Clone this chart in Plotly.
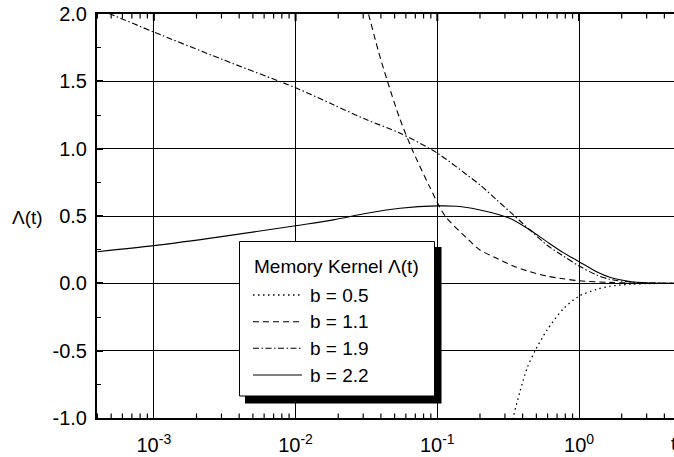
import math
import plotly.graph_objects as go

# ---------------- data ----------------
t_b05 = [0.33, 0.343, 0.384, 0.430, 0.490, 0.592, 0.774, 1.0, 1.33, 1.65, 2.29, 3.0, 4.7]
L_b05 = [-1.12, -1.0, -0.80, -0.63, -0.50, -0.35, -0.19, -0.095, -0.045, -0.022, -0.007, -0.002, 0.0]

t_b11 = [0.030, 0.0327, 0.0385, 0.0445, 0.0545, 0.0661, 0.088, 0.1135, 0.162, 0.2, 0.263,
         0.344, 0.451, 0.592, 0.774, 1.0, 1.65, 2.29, 3.0, 4.7]
L_b11 = [2.14, 2.0, 1.72, 1.5, 1.22, 1.0, 0.72, 0.5, 0.335, 0.248, 0.186,
         0.129, 0.086, 0.054, 0.034, 0.019, 0.007, 0.003, 0.001, 0.0]

t_b19 = [4.0e-4, 4.93e-4, 1e-3, 3e-3, 0.01, 0.0185, 0.0318, 0.0547, 0.1, 0.162, 0.2, 0.263,
         0.344, 0.451, 0.592, 0.774, 1.0, 1.33, 1.65, 2.29, 3.0, 4.7]
L_b19 = [2.04, 2.0, 1.866, 1.665, 1.452, 1.326, 1.214, 1.115, 0.967, 0.805, 0.731, 0.619,
         0.508, 0.396, 0.285, 0.203, 0.129, 0.062, 0.030, 0.010, 0.003, 0.0]

t_b22 = [4.0e-4, 1e-3, 3e-3, 0.01, 0.0185, 0.0318, 0.0547, 0.1, 0.137, 0.2, 0.277,
         0.344, 0.451, 0.592, 0.774, 1.0, 1.33, 1.65, 2.29, 3.0, 4.7]
L_b22 = [0.235, 0.280, 0.347, 0.428, 0.471, 0.520, 0.558, 0.575, 0.572, 0.545, 0.508,
         0.471, 0.396, 0.310, 0.228, 0.161, 0.086, 0.045, 0.014, 0.004, 0.0]

series_names = ["b = 0.5", "b = 1.1", "b = 1.9", "b = 2.2"]
x_tickvals = [1e-3, 1e-2, 1e-1, 1]
x_ticktext = ["10<sup>-3</sup>", "10<sup>-2</sup>", "10<sup>-1</sup>", "10<sup>0</sup>"]
x_minor_mult = [2, 3, 4, 5, 6, 7, 8, 9]
x_minor_decades = [1e-4, 1e-3, 1e-2, 1e-1, 1]
y_tickvals = [-1.0, -0.5, 0.0, 0.5, 1.0, 1.5, 2.0]
y_ticktext = ["-1.0", "-0.5", "0.0", "0.5", "1.0", "1.5", "2.0"]
legend_title = "Memory Kernel \u039b(t)"

# ---------------- styling ----------------
W, H = 674, 457
ML, MR, MT, MB = 97, 0, 14, 39
FONT = "Liberation Sans, Arial, Helvetica, sans-serif"
FS = 19
FS_TICK = 20
dashes = ["1.5px,3.5px", "6px,4px", "6px,2.5px,1.5px,2.5px", "solid"]
widths = [1.3, 1.1, 1.1, 1.1]
XRANGE = [-3.401, 0.670]
YRANGE = [-1.0, 2.0]

PW = W - ML - MR
PH = H - MT - MB


def px(x):
    return (x - ML) / PW


def py(y):
    return (H - MB - y) / PH


def xlog_paper(v):
    return (math.log10(v) - XRANGE[0]) / (XRANGE[1] - XRANGE[0])


fig = go.Figure()
all_t = [t_b05, t_b11, t_b19, t_b22]
all_L = [L_b05, L_b11, L_b19, L_b22]
for t, L, name, d, w in zip(all_t, all_L, series_names, dashes, widths):
    fig.add_trace(go.Scatter(
        x=t, y=L, mode="lines", name=name,
        line=dict(color="black", width=w, dash=d, shape="spline", smoothing=0.8),
        showlegend=False,
    ))

fig.update_layout(
    width=W, height=H,
    margin=dict(l=ML, r=MR, t=MT, b=MB, pad=0),
    paper_bgcolor="white", plot_bgcolor="white",
    font=dict(family=FONT, size=FS, color="black"),
    xaxis=dict(
        type="log", range=XRANGE,
        tickmode="array", tickvals=x_tickvals, ticktext=x_ticktext,
        ticks="", showline=True, linecolor="black", linewidth=2, mirror=True,
        showgrid=True, gridcolor="black", gridwidth=1,
        zeroline=False,
        tickfont=dict(family=FONT, size=FS_TICK, color="black"),
        ticklabelstandoff=8,
    ),
    yaxis=dict(
        range=YRANGE,
        tickmode="array", tickvals=y_tickvals, ticktext=y_ticktext,
        ticks="inside", ticklen=6, tickwidth=1.5, tickcolor="black",
        showline=True, linecolor="black", linewidth=2, mirror=False,
        showgrid=True, gridcolor="black", gridwidth=1,
        zeroline=False,
        minor=dict(dtick=0.25, ticks="inside", ticklen=4, tickwidth=1.2,
                   tickcolor="black", showgrid=False),
        tickfont=dict(family=FONT, size=FS_TICK, color="black"),
        ticklabelstandoff=4,
    ),
)

shapes = []
# x minor ticks (inside, bottom and top), placed on the log scale
minor_x = [k * d for d in x_minor_decades for k in x_minor_mult]
for v in minor_x:
    xp = xlog_paper(v)
    if 0.0 < xp < 1.0:
        shapes.append(dict(type="line", xref="paper", yref="paper",
                           x0=xp, x1=xp, y0=0, y1=4.5 / PH,
                           line=dict(color="black", width=1.2), layer="above"))
        shapes.append(dict(type="line", xref="paper", yref="paper",
                           x0=xp, x1=xp, y0=1, y1=1 - 4.5 / PH,
                           line=dict(color="black", width=1.2), layer="above"))
for v in x_tickvals:
    xp = xlog_paper(v)
    shapes.append(dict(type="line", xref="paper", yref="paper",
                       x0=xp, x1=xp, y0=1, y1=1 - 7 / PH,
                       line=dict(color="black", width=2), layer="above"))

# ---------------- legend (manual, with drop shadow) ----------------
shapes.append(dict(type="rect", xref="paper", yref="paper",
                   x0=px(245), x1=px(441.5), y0=py(403.5), y1=py(247),
                   fillcolor="black", line=dict(width=0), layer="above"))
shapes.append(dict(type="rect", xref="paper", yref="paper",
                   x0=px(239.5), x1=px(434.5), y0=py(396), y1=py(241.5),
                   fillcolor="white", line=dict(color="black", width=1), layer="above"))
row_y = [295, 321.7, 348.3, 375]
for yy, d, w in zip(row_y, dashes, widths):
    shapes.append(dict(type="line", xref="paper", yref="paper",
                       x0=px(253), x1=px(302), y0=py(yy), y1=py(yy),
                       line=dict(color="black", width=w, dash=d), layer="above"))

annotations = []
annotations.append(dict(xref="paper", yref="paper", x=px(252), y=py(266),
                        xanchor="left", yanchor="middle", showarrow=False,
                        text=legend_title, font=dict(family=FONT, size=FS, color="black")))
for yy, name in zip(row_y, series_names):
    annotations.append(dict(xref="paper", yref="paper", x=px(307.5), y=py(yy),
                            xanchor="left", yanchor="middle", showarrow=False,
                            text=name, font=dict(family=FONT, size=FS, color="black")))
# axis titles
annotations.append(dict(xref="paper", yref="paper", x=px(10), y=py(217),
                        xanchor="left", yanchor="middle", showarrow=False,
                        text="\u039b(t)", font=dict(family=FONT, size=FS, color="black")))
annotations.append(dict(xref="paper", yref="paper", x=px(669), y=py(443),
                        xanchor="left", yanchor="middle", showarrow=False,
                        text="t", font=dict(family=FONT, size=FS, color="black")))

fig.update_layout(shapes=shapes, annotations=annotations)
fig.write_html("out.html")
